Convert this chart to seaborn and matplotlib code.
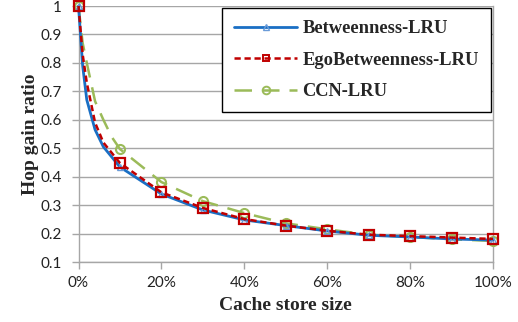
import matplotlib
matplotlib.use("Agg")
import matplotlib.pyplot as plt
from matplotlib.lines import Line2D
from matplotlib.ticker import PercentFormatter
import seaborn as sns

# ---- data ----
x_bet = [0.0, 0.01, 0.02, 0.04, 0.06, 0.10, 0.20, 0.30, 0.40, 0.50, 0.60, 0.70, 0.80, 0.90, 1.00]
y_bet = [1.0, 0.79, 0.67, 0.565, 0.505, 0.434, 0.339, 0.283, 0.248, 0.228, 0.209, 0.194, 0.188, 0.181, 0.177]

x_ego = [0.0, 0.01, 0.02, 0.04, 0.06, 0.10, 0.20, 0.30, 0.40, 0.50, 0.60, 0.70, 0.80, 0.90, 1.00]
y_ego = [1.0, 0.83, 0.73, 0.59, 0.52, 0.448, 0.345, 0.290, 0.251, 0.228, 0.210, 0.196, 0.191, 0.186, 0.181]

x_ccn = [0.0, 0.01, 0.02, 0.04, 0.06, 0.08, 0.10, 0.20, 0.30, 0.40, 0.50, 0.60, 0.70, 0.80, 0.90, 1.00]
y_ccn = [1.0, 0.87, 0.80, 0.665, 0.60, 0.54, 0.497, 0.381, 0.314, 0.272, 0.236, 0.215, 0.196, 0.188, 0.180, 0.174]

labels = ["Betweenness-LRU", "EgoBetweenness-LRU", "CCN-LRU"]
x_ticks = [0.0, 0.2, 0.4, 0.6, 0.8, 1.0]
y_ticks = [0.1, 0.2, 0.3, 0.4, 0.5, 0.6, 0.7, 0.8, 0.9, 1.0]
y_ticklabels = ["0.1", "0.2", "0.3", "0.4", "0.5", "0.6", "0.7", "0.8", "0.9", "1"]

sns.set_theme(style="white")
plt.rcParams["font.family"] = ["Lato", "DejaVu Sans"]

fig = plt.figure(figsize=(5.18, 3.22), dpi=100)
ax = fig.add_axes([78.5/518, 1-262/322, (493-78.5)/518, (262-6)/322])

blue = "#1A6FC4"
red = "#C00000"
green = "#9BBB59"

def mark_idx(xs):
    return [i for i, v in enumerate(xs) if abs(round(v*10) - v*10) < 1e-9]

sns.lineplot(x=x_ccn, y=y_ccn, ax=ax, color=green, lw=1.8, linestyle=(0, (7, 4)),
             marker="o", ms=6.5, mfc="none", mec=green, mew=1.5,
             markevery=mark_idx(x_ccn), zorder=3, sort=False, estimator=None, clip_on=False)
sns.lineplot(x=x_bet, y=y_bet, ax=ax, color=blue, lw=2.0, linestyle="-",
             marker="^", ms=4.5, mfc="none", mec="#6A9BD8", mew=1.0,
             markevery=mark_idx(x_bet), zorder=4, sort=False, estimator=None, clip_on=False)
sns.lineplot(x=x_ego, y=y_ego, ax=ax, color=red, lw=1.8, linestyle=(0, (2.5, 1.5)),
             marker="s", ms=6.5, mfc="none", mec=red, mew=1.6,
             markevery=mark_idx(x_ego), zorder=5, sort=False, estimator=None, clip_on=False)

ax.set_xlim(0, 1)
ax.set_ylim(0.1, 1.0)
ax.set_xticks(x_ticks)
ax.xaxis.set_major_formatter(PercentFormatter(xmax=1, decimals=0))
ax.set_yticks(y_ticks)
ax.set_yticklabels(y_ticklabels)

ax.grid(axis="y", color="#A6A6A6", lw=1.0)
ax.grid(axis="x", visible=False)
ax.set_axisbelow(True)
for s in ["left", "bottom", "right"]:
    ax.spines[s].set_color("#A6A6A6")
    ax.spines[s].set_linewidth(1.0)
ax.spines["top"].set_visible(False)

ax.tick_params(axis="both", which="major", direction="out", length=5, width=1.0,
               color="#A6A6A6", labelsize=11, labelcolor="#222222", bottom=True, left=True)
ax.tick_params(axis="y", pad=7)
ax.tick_params(axis="x", pad=5)

serif = ["Liberation Serif", "DejaVu Serif"]
ax.set_xlabel("Cache store size", fontsize=14, fontweight="bold", family=serif, labelpad=5)
ax.set_ylabel("Hop gain ratio", fontsize=14, fontweight="bold", family=serif, labelpad=1)

handles = [
    Line2D([], [], color=blue, lw=2.0, marker="^", ms=4.5, mfc="none", mec="#6A9BD8", mew=1.0),
    Line2D([], [], color=red, lw=1.8, linestyle=(0, (2.5, 1.5)), marker="s", ms=5, mfc="none", mec=red, mew=1.4),
    Line2D([], [], color=green, lw=1.8, linestyle=(0, (7, 4)), marker="o", ms=5.5, mfc="none", mec=green, mew=1.4),
]
leg = ax.legend(handles, labels, loc="upper right", bbox_to_anchor=(491/518, 1-8/322),
                bbox_transform=fig.transFigure, frameon=True, fancybox=False,
                edgecolor="black", framealpha=1, borderpad=0.65, labelspacing=0.79,
                handlelength=3.4, handletextpad=0.3, borderaxespad=0,
                prop={"family": serif, "weight": "bold", "size": 13.3})
leg.get_frame().set_linewidth(1.0)
leg.set_zorder(10)

fig.savefig("out.png", dpi=100)
